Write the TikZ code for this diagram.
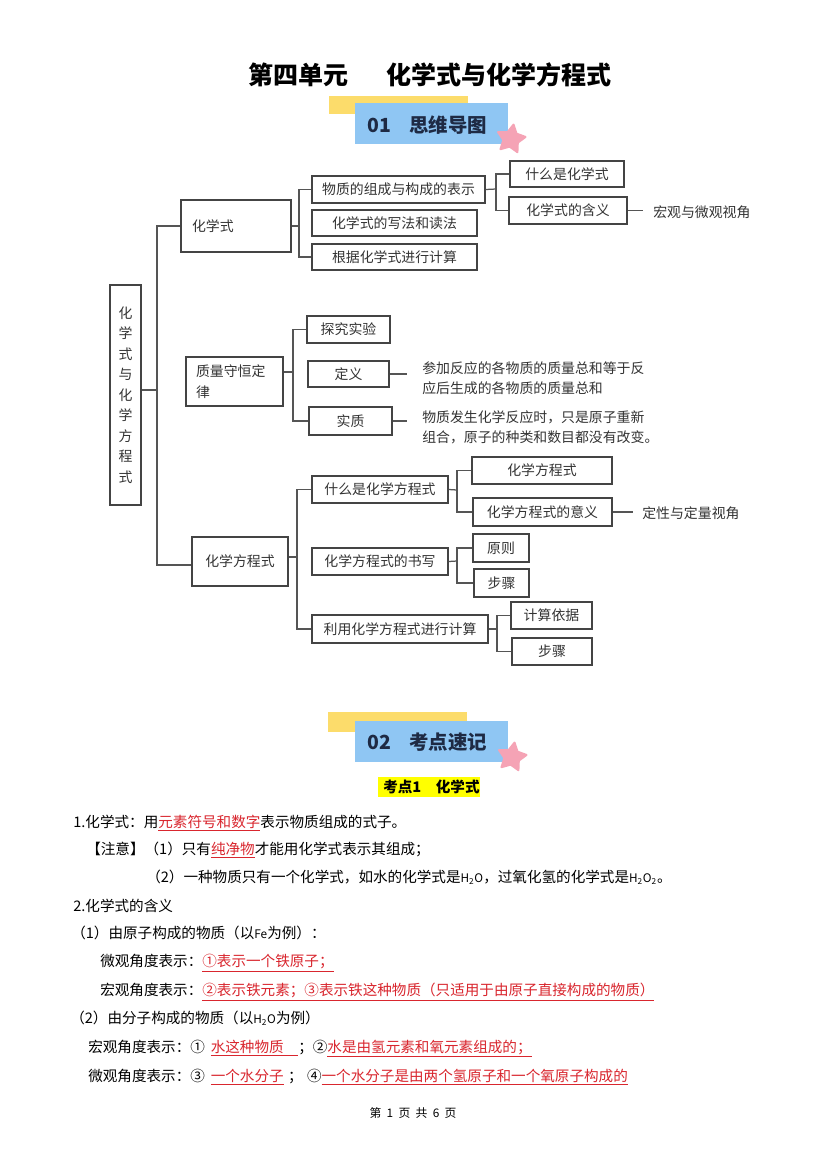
\documentclass[tikz,border=0pt]{standalone}
\usepackage{fontspec}
\newfontfamily\cjk{Noto Sans CJK SC}
\usetikzlibrary{shapes.geometric}
\definecolor{lineC}{HTML}{555555}
\definecolor{boxC}{HTML}{444444}
\definecolor{txtC}{HTML}{333333}
\definecolor{redT}{HTML}{D9262E}
\definecolor{bannerB}{HTML}{8FC6F3}
\definecolor{bannerY}{HTML}{FCDC6B}
\definecolor{starP}{HTML}{F5A3B5}
\definecolor{navy}{HTML}{1E2A44}
\definecolor{hlY}{HTML}{FFFF00}
\newcommand\mmfont{\cjk\fontsize{10}{12}\selectfont}
\newcommand\bodyfont{\cjk\fontsize{10.5}{13}\selectfont}
\newcommand\rul[1]{\textcolor{redT}{\underline{#1}}}
\newcommand\smlat[1]{{\fontsize{8.5}{10}\selectfont #1}}
\newcommand\MMbox[7][]{\node[mmbox, minimum width={(#5-#3)*0.72pt}, minimum height={(#6-#4)*0.72pt}, #1] (#2) at ({(#3+#5)/2},{(#4+#6)/2}) {#7};}
\begin{document}
\begin{tikzpicture}[x=0.72pt,y=-0.72pt,
  mmbox/.style={draw=boxC, line width=0.9pt, inner sep=0pt, text=txtC, font=\mmfont},
  conn/.style={draw=lineC, line width=0.9pt},
  mmtext/.style={font=\mmfont, text=txtC, align=left, anchor=west},
  body/.style={font=\bodyfont, inner sep=0pt, anchor=base west, text=black},
  titlefont/.style={font=\cjk\bfseries\fontsize{18}{20}\selectfont, anchor=west, inner sep=0pt},
  bannertext/.style={font=\cjk\bfseries\fontsize{14}{16}\selectfont, text=navy, anchor=west, inner sep=0pt},
  starshape/.style={star, star points=5, star point ratio=1.9, minimum size=21pt, fill=starP, inner sep=0pt, rotate=-10, line join=round, draw=starP, line width=1.5pt}]
\useasboundingbox (0,0) rectangle (827,1169);
\fill[white] (0,0) rectangle (827,1169);

% title
\node[titlefont] (t1) at (248,75) {第四单元};
\node[titlefont] (t2) at (386,75) {化学式与化学方程式};

% banner 01
\fill[bannerY] (329,96) rectangle (468,114);
\fill[bannerB] (355,103) rectangle (508,144);
\node[starshape] (s1) at (511,139) {};
\node[bannertext] (b1n) at (367,125) {01};
\node[bannertext] (b1t) at (409,125) {思维导图};

% mind map boxes
\MMbox[align=center, font=\cjk\fontsize{10}{14.8}\selectfont]{root}{110}{285}{141}{505}{化\\学\\式\\与\\化\\学\\方\\程\\式}
\MMbox[align=left, text width={(110-22)*0.72pt}]{hxs}{181}{200}{291}{252}{化学式}
\MMbox[align=left, text width={(97-20)*0.72pt}, font=\cjk\fontsize{10}{15}\selectfont]{zl}{186}{357}{283}{406}{质量守恒定\\律}
\MMbox{hfc}{192}{537}{288}{586}{化学方程式}

\MMbox{wz}{312}{176}{485}{203}{物质的组成与构成的表示}
\MMbox{xf}{312}{210}{477}{236}{化学式的写法和读法}
\MMbox{gj}{312}{244}{477}{270}{根据化学式进行计算}
\MMbox{sm1}{510}{161}{624}{187}{什么是化学式}
\MMbox{hy1}{509}{197}{627}{224}{化学式的含义}

\MMbox{tj}{307}{316}{390}{343}{探究实验}
\MMbox{dy}{308}{361}{389}{387}{定义}
\MMbox{sz}{309}{407}{392}{435}{实质}

\MMbox{sm2}{312}{476}{448}{503}{什么是化学方程式}
\MMbox{sx}{312}{548}{448}{575}{化学方程式的书写}
\MMbox{ly}{312}{615}{488}{643}{利用化学方程式进行计算}
\MMbox{fc}{472}{457}{612}{484}{化学方程式}
\MMbox{yy}{473}{498}{612}{526}{化学方程式的意义}
\MMbox{yz}{473}{534}{529}{562}{原则}
\MMbox{bz1}{474}{569}{529}{597}{步骤}
\MMbox{yj}{511}{602}{592}{629}{计算依据}
\MMbox{bz2}{512}{638}{592}{665}{步骤}

% free texts
\node[mmtext, inner xsep=7.2pt] (thg) at (643,212) {宏观与微观视角};
\node[mmtext, inner xsep=6.5pt] (tdl) at (633,513) {定性与定量视角};
\node[mmtext, inner xsep=10.8pt, font=\cjk\fontsize{10}{14.4}\selectfont] (tdy) at (407,378.5) {参加反应的各物质的质量总和等于反\\应后生成的各物质的质量总和};
\node[mmtext, inner xsep=10.8pt, font=\cjk\fontsize{10}{14.4}\selectfont] (tsz) at (407,427) {物质发生化学反应时，只是原子重新\\组合，原子的种类和数目都没有改变。};

% junctions
\coordinate (j1) at (157,390);
\coordinate (j2) at (299,226);
\coordinate (j3) at (496,189);
\coordinate (j4) at (293,372);
\coordinate (j5) at (297,557);
\coordinate (j6) at (457,490);
\coordinate (j7) at (457,561);
\coordinate (j8) at (497,629);

% connectors
\draw[conn] (j1 -| root.east) -- (j1);
\draw[conn] (hxs.west) -| (j1) |- (hfc.west |- 0,565);
\draw[conn] (hxs.east) -- (j2);
\draw[conn] (wz.west) -| (j2) |- (gj.west);
\draw[conn] (wz.east) -- (j3);
\draw[conn] (sm1.west) -| (j3) |- (hy1.west);
\draw[conn] (hy1.east) -- (hy1.east -| thg.west);
\draw[conn] (j4 -| zl.east) -- (j4);
\draw[conn] (tj.west) -| (j4) |- (sz.west);
\draw[conn] (dy.east) -- (dy.east -| tdy.west);
\draw[conn] (sz.east) -- (sz.east -| tsz.west);
\draw[conn] (j5 -| hfc.east) -- (j5);
\draw[conn] (sm2.west) -| (j5) |- (ly.west);
\draw[conn] (sm2.east) -- (j6);
\draw[conn] (fc.west) -| (j6) |- (yy.west);
\draw[conn] (yy.east) -- (yy.east -| tdl.west);
\draw[conn] (sx.east) -- (j7);
\draw[conn] (yz.west) -| (j7) |- (bz1.west);
\draw[conn] (ly.east) -- (j8);
\draw[conn] (yj.west) -| (j8) |- (bz2.west);

% banner 02
\fill[bannerY] (328,712) rectangle (467,732);
\fill[bannerB] (355,721) rectangle (508,762);
\node[starshape] (s2) at (512,757) {};
\node[bannertext] (b2n) at (367,742) {02};
\node[bannertext] (b2t) at (409,742) {考点速记};

% 考点1
\fill[hlY] (378,777) rectangle (480,797);
\node[anchor=west, inner sep=0pt, font=\cjk\bfseries\fontsize{10.5}{12}\selectfont] (kd) at (383,787) {考点1\hspace{1em}化学式};

% body text
\node[body] (l1) at (73,827.5) {1.化学式：用\rul{元素符号和数字}表示物质组成的式子。};
\node[body] (l2) at (86,854) {【注意】（1）只有\rul{纯净物}才能用化学式表示其组成；};
\node[body] (l3) at (146,882) {（2）一种物质只有一个化学式，如水的化学式是\smlat{H\textsubscript{2}O}，过氧化氢的化学式是\smlat{H\textsubscript{2}O\textsubscript{2}}。};
\node[body] (l4) at (73,911.5) {2.化学式的含义};
\node[body] (l5) at (71,938.5) {（1）由原子构成的物质（以\smlat{Fe}为例）：};
\node[body] (l6) at (100,966.5) {微观角度表示：\rul{①表示一个铁原子；}};
\node[body] (l7) at (100,995.5) {宏观角度表示：\rul{②表示铁元素；③表示铁这种物质（只适用于由原子直接构成的物质）}};
\node[body] (l8) at (70,1023.5) {（2）由分子构成的物质（以\smlat{H\textsubscript{2}O}为例）};
\node[body] (l9) at (88,1052) {宏观角度表示：①\hspace{0.4em}\rul{水这种物质\hspace{1em}}；②\rul{水是由氢元素和氧元素组成的；}};
\node[body] (l10) at (88,1081) {微观角度表示：③\hspace{0.4em}\rul{一个水分子}\hspace{0.3em}；\hspace{0.3em}④\rul{一个水分子是由两个氢原子和一个氧原子构成的}};

% footer
\node[font=\cjk\fontsize{8.5}{10}\selectfont, inner sep=0pt] (foot) at (413,1113) {第\hspace{0.45em}1\hspace{0.45em}页\hspace{0.45em}共\hspace{0.45em}6\hspace{0.45em}页};
\end{tikzpicture}
\end{document}
